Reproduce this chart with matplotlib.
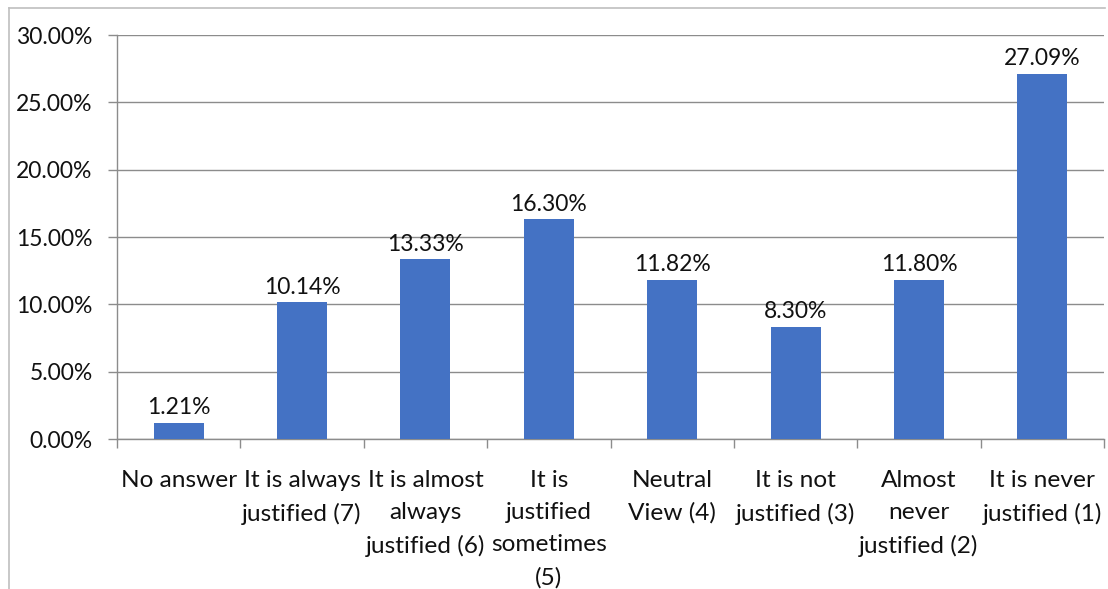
import matplotlib
matplotlib.use("Agg")
import matplotlib.pyplot as plt
from matplotlib.lines import Line2D
import numpy as np

categories = ["No answer", "It is always\njustified (7)", "It is almost\nalways\njustified (6)",
              "It is\njustified\nsometimes\n(5)", "Neutral\nView (4)", "It is not\njustified (3)",
              "Almost\nnever\njustified (2)", "It is never\njustified (1)"]
values = [1.21, 10.14, 13.33, 16.30, 11.82, 8.30, 11.80, 27.09]
y_ticks = [0, 5, 10, 15, 20, 25, 30]

plt.rcParams['font.family'] = ['Lato', 'DejaVu Sans']
FS = 16.5
FSX = 17.6
TXT = '#111111'
GRID = '#8c8c8c'

fig = plt.figure(figsize=(11.08, 5.89), dpi=100)
W, H = 1108, 589
ax = fig.add_axes([117 / W, 1 - 439 / H, (1104 - 117) / W, (439 - 35) / H])

x = np.arange(len(values))
ax.bar(x, values, width=0.405, color='#4472C4', zorder=3)
for xi, v in zip(x, values):
    ax.annotate(f"{v:.2f}%", (xi, v), xytext=(0, 3.5), textcoords='offset points',
                ha='center', va='bottom', fontsize=FS, color=TXT)

ax.set_xlim(-0.5, len(values) - 0.5)
ax.set_ylim(0, 30)
ax.set_yticks(y_ticks)
ax.set_yticklabels([f"{t:.2f}%" for t in y_ticks])
ax.yaxis.grid(True, color=GRID, linewidth=1.0, zorder=0)
ax.set_xticks(x)
ax.set_xticklabels(categories, linespacing=1.67)
ax.set_xticks(np.arange(-0.5, len(values)), minor=True)
ax.tick_params(axis='x', which='major', length=0, pad=22, labelsize=FSX, labelcolor=TXT)
ax.tick_params(axis='x', which='minor', length=6.5, width=1.0, color=GRID)
ax.tick_params(axis='y', length=6.5, width=1.0, color=GRID, pad=11, labelsize=FS, labelcolor=TXT)

for s in ['top', 'right']:
    ax.spines[s].set_visible(False)
for s in ['left', 'bottom']:
    ax.spines[s].set_color(GRID)
    ax.spines[s].set_linewidth(1.0)

# outer chart frame (partially visible)
fig.add_artist(Line2D([9 / W, 9 / W], [0, 1 - 8 / H], transform=fig.transFigure, color='#bfbfbf', linewidth=1.2))
fig.add_artist(Line2D([9 / W, 1105 / W], [1 - 8 / H, 1 - 8 / H], transform=fig.transFigure, color='#bfbfbf', linewidth=1.2))

fig.savefig("out.png", dpi=100, facecolor='white')
